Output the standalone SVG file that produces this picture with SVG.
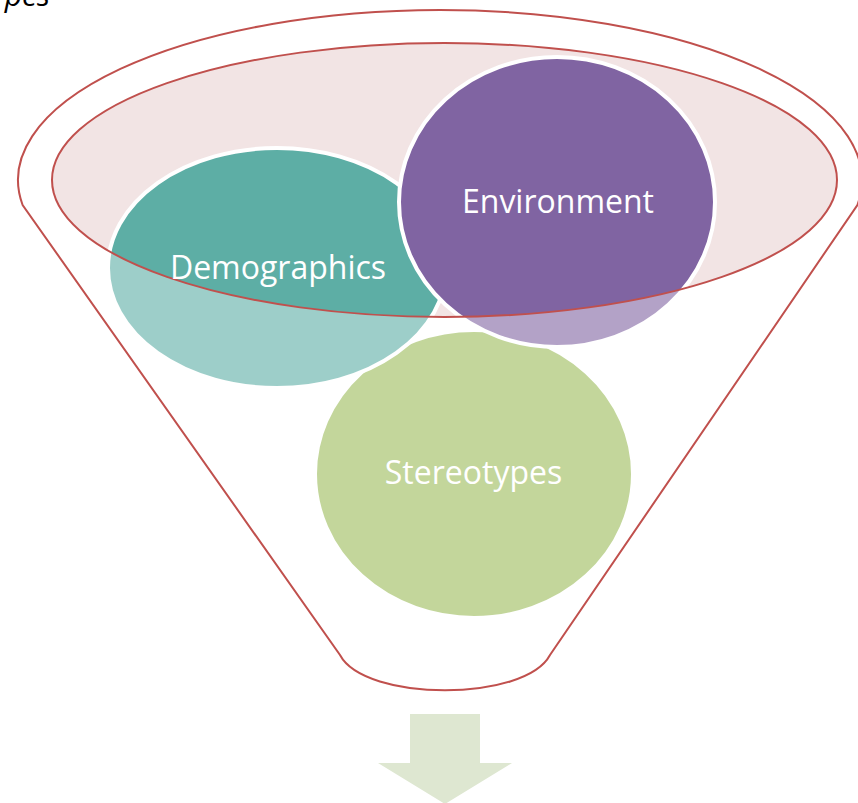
<svg xmlns="http://www.w3.org/2000/svg" width="858" height="803" viewBox="0 0 858 803">
<style>
.lbl{font-family:"Open Sans","Liberation Sans",sans-serif;font-size:32px;fill:#ffffff;text-anchor:middle}
.node{stroke:#ffffff;stroke-width:4}
.red{fill:none;stroke:#C0504D;stroke-width:2}
</style>
<rect width="858" height="803" fill="#ffffff"/>
<g id="funnel-body">
<path d="M22.6,205 A422,170 0 1 1 857.4,205 L550,655 C525,702 365,702 340,655 Z" fill="#ffffff"/>
<ellipse cx="444.5" cy="180" rx="392.5" ry="137" fill="#F2E4E4"/>
</g>
<g id="node-stereotypes">
<ellipse class="node" cx="474" cy="474" rx="159" ry="144" fill="#9BBB59"/>
</g>
<g id="node-demographics">
<ellipse class="node" cx="277" cy="268" rx="169" ry="120" fill="#5DAEA5"/>
</g>
<g id="node-environment">
<ellipse class="node" cx="557" cy="202" rx="158" ry="145" fill="#8064A2"/>
</g>
<path id="wash" d="M0,0 H858 V803 H0 Z M52,180 A392.5,137 0 1 0 837,180 A392.5,137 0 1 0 52,180 Z" fill="#ffffff" fill-opacity="0.4" fill-rule="evenodd"/>
<g id="funnel-outline">
<ellipse class="red" cx="444.5" cy="180" rx="392.5" ry="137"/>
<path class="red" d="M22.6,205 A422,170 0 1 1 857.4,205 L550,655 C525,702 365,702 340,655 Z"/>
</g>
<g id="labels">
<text class="lbl" x="278" y="279">Demographics</text>
<text class="lbl" x="558" y="213">Environment</text>
<text class="lbl" x="473.5" y="484">Stereotypes</text>
</g>
<g id="connectors">
<polygon points="410,714 480,714 480,763 512,763 445,804 378,763 410,763" fill="#DEE7D1"/>
</g>
<text x="50" y="6" font-family="Open Sans, Liberation Sans, sans-serif" font-style="italic" font-size="30" text-anchor="end" fill="#000000">pes</text>
</svg>
